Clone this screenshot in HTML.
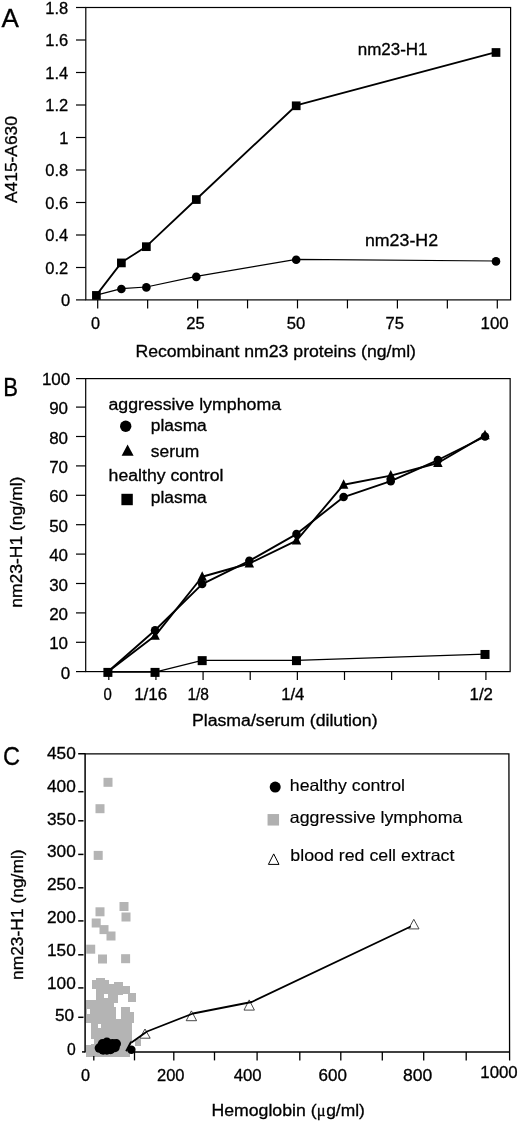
<!DOCTYPE html>
<html><head><meta charset="utf-8"><title>Figure</title>
<style>
html,body{margin:0;padding:0;background:#fff;}
svg{display:block;filter:blur(0.4px);font-family:"Liberation Sans",Arial,Helvetica,sans-serif;fill:#000;}
text{stroke:#000;stroke-width:0.3px;}
</style></head><body>
<svg width="520" height="1122" viewBox="0 0 520 1122">
<rect x="0" y="0" width="520" height="1122" fill="#fff"/>
<!-- chart A -->
<rect x="85.8" y="7.5" width="424.8" height="292.4" fill="none" stroke="#000" stroke-width="1.2"/>
<line x1="76.00" y1="299.90" x2="85.80" y2="299.90" stroke="#000" stroke-width="1.2"/>
<text x="61.06" y="306.00" font-size="16" textLength="9.17" lengthAdjust="spacingAndGlyphs">0</text>
<line x1="76.00" y1="267.50" x2="85.80" y2="267.50" stroke="#000" stroke-width="1.2"/>
<text x="45.38" y="273.50" font-size="16" textLength="22.91" lengthAdjust="spacingAndGlyphs">0.2</text>
<line x1="76.00" y1="235.00" x2="85.80" y2="235.00" stroke="#000" stroke-width="1.2"/>
<text x="45.38" y="241.00" font-size="16" textLength="22.91" lengthAdjust="spacingAndGlyphs">0.4</text>
<line x1="76.00" y1="202.50" x2="85.80" y2="202.50" stroke="#000" stroke-width="1.2"/>
<text x="45.38" y="208.50" font-size="16" textLength="22.91" lengthAdjust="spacingAndGlyphs">0.6</text>
<line x1="76.00" y1="170.00" x2="85.80" y2="170.00" stroke="#000" stroke-width="1.2"/>
<text x="45.38" y="176.00" font-size="16" textLength="22.91" lengthAdjust="spacingAndGlyphs">0.8</text>
<line x1="76.00" y1="137.50" x2="85.80" y2="137.50" stroke="#000" stroke-width="1.2"/>
<text x="59.16" y="143.50" font-size="16" textLength="9.17" lengthAdjust="spacingAndGlyphs">1</text>
<line x1="76.00" y1="105.00" x2="85.80" y2="105.00" stroke="#000" stroke-width="1.2"/>
<text x="45.38" y="111.00" font-size="16" textLength="22.91" lengthAdjust="spacingAndGlyphs">1.2</text>
<line x1="76.00" y1="72.50" x2="85.80" y2="72.50" stroke="#000" stroke-width="1.2"/>
<text x="45.38" y="78.50" font-size="16" textLength="22.91" lengthAdjust="spacingAndGlyphs">1.4</text>
<line x1="76.00" y1="40.00" x2="85.80" y2="40.00" stroke="#000" stroke-width="1.2"/>
<text x="45.38" y="46.00" font-size="16" textLength="22.91" lengthAdjust="spacingAndGlyphs">1.6</text>
<line x1="76.00" y1="7.50" x2="85.80" y2="7.50" stroke="#000" stroke-width="1.2"/>
<text x="45.38" y="13.50" font-size="16" textLength="22.91" lengthAdjust="spacingAndGlyphs">1.8</text>
<line x1="97.70" y1="299.90" x2="97.70" y2="308.40" stroke="#000" stroke-width="1.2"/>
<line x1="147.65" y1="299.90" x2="147.65" y2="308.40" stroke="#000" stroke-width="1.2"/>
<line x1="197.60" y1="299.90" x2="197.60" y2="308.40" stroke="#000" stroke-width="1.2"/>
<line x1="247.55" y1="299.90" x2="247.55" y2="308.40" stroke="#000" stroke-width="1.2"/>
<line x1="297.50" y1="299.90" x2="297.50" y2="308.40" stroke="#000" stroke-width="1.2"/>
<line x1="347.45" y1="299.90" x2="347.45" y2="308.40" stroke="#000" stroke-width="1.2"/>
<line x1="397.40" y1="299.90" x2="397.40" y2="308.40" stroke="#000" stroke-width="1.2"/>
<line x1="447.35" y1="299.90" x2="447.35" y2="308.40" stroke="#000" stroke-width="1.2"/>
<line x1="497.30" y1="299.90" x2="497.30" y2="308.40" stroke="#000" stroke-width="1.2"/>
<text x="91.00" y="328.50" font-size="16" textLength="9.02" lengthAdjust="spacingAndGlyphs">0</text>
<text x="186.20" y="328.50" font-size="16" textLength="18.45" lengthAdjust="spacingAndGlyphs">25</text>
<text x="286.80" y="328.50" font-size="16" textLength="18.45" lengthAdjust="spacingAndGlyphs">50</text>
<text x="385.60" y="328.50" font-size="16" textLength="18.45" lengthAdjust="spacingAndGlyphs">75</text>
<text x="480.60" y="328.50" font-size="16" textLength="28.14" lengthAdjust="spacingAndGlyphs">100</text>
<text x="135.40" y="356.80" font-size="16" textLength="280.56" lengthAdjust="spacingAndGlyphs">Recombinant nm23 proteins (ng/ml)</text>
<text transform="translate(17.40,203.00) rotate(-90)" font-size="16" textLength="86.93" lengthAdjust="spacingAndGlyphs">A415-A630</text>
<text x="1.60" y="27.20" font-size="26" textLength="17.37" lengthAdjust="spacingAndGlyphs">A</text>
<text x="357.70" y="54.60" font-size="16" textLength="69.86" lengthAdjust="spacingAndGlyphs">nm23-H1</text>
<text x="364.90" y="246.20" font-size="16" textLength="73.16" lengthAdjust="spacingAndGlyphs">nm23-H2</text>
<polyline fill="none" stroke="#000" stroke-width="1.25" stroke-linejoin="round" points="96.40,295.12 121.38,288.62 146.35,287.00 196.30,276.44 296.20,259.38 496.00,261.00"/>
<polyline fill="none" stroke="#000" stroke-width="1.8" stroke-linejoin="round" points="96.40,295.12 121.38,262.62 146.35,246.38 196.30,199.25 296.20,105.49 496.00,52.19"/>
<circle cx="121.38" cy="289.02" r="4.3" fill="#000"/>
<circle cx="146.35" cy="287.40" r="4.3" fill="#000"/>
<circle cx="196.30" cy="276.84" r="4.3" fill="#000"/>
<circle cx="296.20" cy="259.77" r="4.3" fill="#000"/>
<circle cx="496.00" cy="261.40" r="4.3" fill="#000"/>
<rect x="92.05" y="291.07" width="8.7" height="8.7" fill="#000"/>
<rect x="117.03" y="258.57" width="8.7" height="8.7" fill="#000"/>
<rect x="142.00" y="242.33" width="8.7" height="8.7" fill="#000"/>
<rect x="191.95" y="195.20" width="8.7" height="8.7" fill="#000"/>
<rect x="291.85" y="101.44" width="8.7" height="8.7" fill="#000"/>
<rect x="491.65" y="48.14" width="8.7" height="8.7" fill="#000"/>
<!-- chart B -->
<rect x="85.7" y="378.6" width="424.45" height="293.0" fill="none" stroke="#000" stroke-width="1.2"/>
<line x1="76.00" y1="671.60" x2="85.70" y2="671.60" stroke="#000" stroke-width="1.2"/>
<text x="60.89" y="678.70" font-size="16" textLength="9.43" lengthAdjust="spacingAndGlyphs">0</text>
<line x1="76.00" y1="642.30" x2="85.70" y2="642.30" stroke="#000" stroke-width="1.2"/>
<text x="49.19" y="649.30" font-size="16" textLength="18.86" lengthAdjust="spacingAndGlyphs">10</text>
<line x1="76.00" y1="612.90" x2="85.70" y2="612.90" stroke="#000" stroke-width="1.2"/>
<text x="49.19" y="619.90" font-size="16" textLength="18.86" lengthAdjust="spacingAndGlyphs">20</text>
<line x1="76.00" y1="583.50" x2="85.70" y2="583.50" stroke="#000" stroke-width="1.2"/>
<text x="49.19" y="590.50" font-size="16" textLength="18.86" lengthAdjust="spacingAndGlyphs">30</text>
<line x1="76.00" y1="554.10" x2="85.70" y2="554.10" stroke="#000" stroke-width="1.2"/>
<text x="49.19" y="561.10" font-size="16" textLength="18.86" lengthAdjust="spacingAndGlyphs">40</text>
<line x1="76.00" y1="524.70" x2="85.70" y2="524.70" stroke="#000" stroke-width="1.2"/>
<text x="49.19" y="531.70" font-size="16" textLength="18.86" lengthAdjust="spacingAndGlyphs">50</text>
<line x1="76.00" y1="495.30" x2="85.70" y2="495.30" stroke="#000" stroke-width="1.2"/>
<text x="49.19" y="502.30" font-size="16" textLength="18.86" lengthAdjust="spacingAndGlyphs">60</text>
<line x1="76.00" y1="465.90" x2="85.70" y2="465.90" stroke="#000" stroke-width="1.2"/>
<text x="49.19" y="472.90" font-size="16" textLength="18.86" lengthAdjust="spacingAndGlyphs">70</text>
<line x1="76.00" y1="436.50" x2="85.70" y2="436.50" stroke="#000" stroke-width="1.2"/>
<text x="49.19" y="443.50" font-size="16" textLength="18.86" lengthAdjust="spacingAndGlyphs">80</text>
<line x1="76.00" y1="407.10" x2="85.70" y2="407.10" stroke="#000" stroke-width="1.2"/>
<text x="49.19" y="414.10" font-size="16" textLength="18.86" lengthAdjust="spacingAndGlyphs">90</text>
<line x1="76.00" y1="378.60" x2="85.70" y2="378.60" stroke="#000" stroke-width="1.2"/>
<text x="41.94" y="384.90" font-size="16" textLength="28.30" lengthAdjust="spacingAndGlyphs">100</text>
<line x1="108.80" y1="671.60" x2="108.80" y2="680.00" stroke="#000" stroke-width="1.2"/>
<line x1="155.94" y1="671.60" x2="155.94" y2="680.00" stroke="#000" stroke-width="1.2"/>
<line x1="203.08" y1="671.60" x2="203.08" y2="680.00" stroke="#000" stroke-width="1.2"/>
<line x1="250.22" y1="671.60" x2="250.22" y2="680.00" stroke="#000" stroke-width="1.2"/>
<line x1="297.36" y1="671.60" x2="297.36" y2="680.00" stroke="#000" stroke-width="1.2"/>
<line x1="344.50" y1="671.60" x2="344.50" y2="680.00" stroke="#000" stroke-width="1.2"/>
<line x1="391.64" y1="671.60" x2="391.64" y2="680.00" stroke="#000" stroke-width="1.2"/>
<line x1="438.78" y1="671.60" x2="438.78" y2="680.00" stroke="#000" stroke-width="1.2"/>
<line x1="485.92" y1="671.60" x2="485.92" y2="680.00" stroke="#000" stroke-width="1.2"/>
<text x="103.60" y="699.60" font-size="16" textLength="8.32" lengthAdjust="spacingAndGlyphs">0</text>
<text x="134.20" y="699.60" font-size="16" textLength="33.02" lengthAdjust="spacingAndGlyphs">1/16</text>
<text x="187.40" y="699.60" font-size="16" textLength="21.59" lengthAdjust="spacingAndGlyphs">1/8</text>
<text x="281.20" y="699.60" font-size="16" textLength="23.19" lengthAdjust="spacingAndGlyphs">1/4</text>
<text x="469.60" y="699.60" font-size="16" textLength="23.39" lengthAdjust="spacingAndGlyphs">1/2</text>
<text x="192.00" y="725.80" font-size="16" textLength="185.56" lengthAdjust="spacingAndGlyphs">Plasma/serum (dilution)</text>
<text transform="translate(21.50,607.80) rotate(-90)" font-size="16" textLength="131.23" lengthAdjust="spacingAndGlyphs">nm23-H1 (ng/ml)</text>
<text x="3.20" y="396.20" font-size="26" textLength="14.77" lengthAdjust="spacingAndGlyphs">B</text>
<text x="108.40" y="410.40" font-size="16" textLength="172.66" lengthAdjust="spacingAndGlyphs">aggressive lymphoma</text>
<text x="150.80" y="431.40" font-size="16" textLength="55.95" lengthAdjust="spacingAndGlyphs">plasma</text>
<text x="150.80" y="456.60" font-size="16" textLength="48.35" lengthAdjust="spacingAndGlyphs">serum</text>
<text x="108.60" y="481.00" font-size="16" textLength="114.83" lengthAdjust="spacingAndGlyphs">healthy control</text>
<text x="150.80" y="503.30" font-size="16" textLength="55.95" lengthAdjust="spacingAndGlyphs">plasma</text>
<circle cx="125.70" cy="426.20" r="5.7" fill="#000"/>
<polygon points="127.60,444.40 121.60,455.80 133.60,455.80" fill="#000"/>
<rect x="121.40" y="493.80" width="11.4" height="11.4" fill="#000"/>
<polyline fill="none" stroke="#000" stroke-width="1.9" stroke-linejoin="round" points="107.90,671.70 155.04,630.25 202.18,584.09 249.32,560.86 296.46,534.11 343.60,497.06 390.74,481.19 437.88,460.02 485.02,436.50"/>
<polyline fill="none" stroke="#000" stroke-width="1.9" stroke-linejoin="round" points="107.90,671.70 155.04,635.83 202.18,576.74 249.32,563.51 296.46,540.58 343.60,484.72 390.74,475.60 437.88,462.96 485.02,435.32"/>
<polyline fill="none" stroke="#000" stroke-width="1.2" stroke-linejoin="round" points="107.90,672.10 155.04,672.10 202.18,660.34 296.46,660.34 485.02,654.17"/>
<polygon points="155.04,630.33 150.29,639.83 159.79,639.83" fill="#000"/>
<polygon points="202.18,571.24 197.43,580.74 206.93,580.74" fill="#000"/>
<polygon points="249.32,558.01 244.57,567.51 254.07,567.51" fill="#000"/>
<polygon points="296.46,535.08 291.71,544.58 301.21,544.58" fill="#000"/>
<polygon points="343.60,479.22 338.85,488.72 348.35,488.72" fill="#000"/>
<polygon points="390.74,470.10 385.99,479.60 395.49,479.60" fill="#000"/>
<polygon points="437.88,457.46 433.13,466.96 442.63,466.96" fill="#000"/>
<polygon points="485.02,429.82 480.27,439.32 489.77,439.32" fill="#000"/>
<circle cx="155.04" cy="630.25" r="4.25" fill="#000"/>
<circle cx="202.18" cy="584.09" r="4.25" fill="#000"/>
<circle cx="249.32" cy="560.86" r="4.25" fill="#000"/>
<circle cx="296.46" cy="534.11" r="4.25" fill="#000"/>
<circle cx="343.60" cy="497.06" r="4.25" fill="#000"/>
<circle cx="390.74" cy="481.19" r="4.25" fill="#000"/>
<circle cx="437.88" cy="460.02" r="4.25" fill="#000"/>
<circle cx="485.02" cy="436.50" r="4.25" fill="#000"/>
<rect x="103.40" y="667.90" width="9" height="9" fill="#000"/>
<rect x="150.54" y="667.90" width="9" height="9" fill="#000"/>
<rect x="197.68" y="656.14" width="9" height="9" fill="#000"/>
<rect x="291.96" y="656.14" width="9" height="9" fill="#000"/>
<rect x="480.52" y="649.97" width="9" height="9" fill="#000"/>
<!-- chart C -->
<rect x="103.50" y="777.80" width="9" height="9" fill="#b4b4b4"/>
<rect x="95.50" y="804.20" width="9" height="9" fill="#b4b4b4"/>
<rect x="93.70" y="850.90" width="9" height="9" fill="#b4b4b4"/>
<rect x="95.50" y="907.30" width="9" height="9" fill="#b4b4b4"/>
<rect x="119.50" y="902.00" width="9" height="9" fill="#b4b4b4"/>
<rect x="121.50" y="912.50" width="9" height="9" fill="#b4b4b4"/>
<rect x="91.70" y="918.50" width="9" height="9" fill="#b4b4b4"/>
<rect x="99.50" y="925.10" width="9" height="9" fill="#b4b4b4"/>
<rect x="106.50" y="931.50" width="9" height="9" fill="#b4b4b4"/>
<rect x="86.20" y="944.70" width="9" height="9" fill="#b4b4b4"/>
<rect x="98.00" y="954.50" width="9" height="9" fill="#b4b4b4"/>
<rect x="121.10" y="954.20" width="9" height="9" fill="#b4b4b4"/>
<rect x="92" y="980" width="17" height="9" fill="#b4b4b4" shape-rendering="crispEdges"/>
<rect x="96" y="978" width="9" height="2" fill="#b4b4b4" shape-rendering="crispEdges"/>
<rect x="96" y="984" width="18" height="17" fill="#b4b4b4" shape-rendering="crispEdges"/>
<rect x="114" y="982" width="9" height="13" fill="#b4b4b4" shape-rendering="crispEdges"/>
<rect x="123" y="986" width="7" height="8" fill="#b4b4b4" shape-rendering="crispEdges"/>
<rect x="128" y="993" width="8" height="9" fill="#b4b4b4" shape-rendering="crispEdges"/>
<rect x="114" y="995" width="4" height="8" fill="#b4b4b4" shape-rendering="crispEdges"/>
<rect x="86" y="1000" width="28" height="23" fill="#b4b4b4" shape-rendering="crispEdges"/>
<rect x="113" y="1007" width="3" height="16" fill="#b4b4b4" shape-rendering="crispEdges"/>
<rect x="121" y="1007" width="9" height="16" fill="#b4b4b4" shape-rendering="crispEdges"/>
<rect x="130" y="1012" width="4" height="11" fill="#b4b4b4" shape-rendering="crispEdges"/>
<rect x="116" y="1019" width="5" height="4" fill="#b4b4b4" shape-rendering="crispEdges"/>
<rect x="91" y="1023" width="41" height="34" fill="#b4b4b4" shape-rendering="crispEdges"/>
<rect x="86" y="1045" width="5" height="12" fill="#b4b4b4" shape-rendering="crispEdges"/>
<rect x="135" y="1039" width="6" height="7" fill="#b4b4b4" shape-rendering="crispEdges"/>
<rect x="104" y="994" width="4" height="4" fill="#fff" shape-rendering="crispEdges"/>
<rect x="87" y="1009" width="3" height="5" fill="#fff" shape-rendering="crispEdges"/>
<rect x="98" y="1024" width="3" height="4" fill="#fff" shape-rendering="crispEdges"/>
<rect x="91" y="1039" width="3" height="5" fill="#fff" shape-rendering="crispEdges"/>
<rect x="130" y="1051" width="2" height="6" fill="#fff" shape-rendering="crispEdges"/>
<line x1="85.10" y1="1052.60" x2="85.10" y2="753.15" stroke="#000" stroke-width="1.5"/>
<polyline fill="none" stroke="#000" stroke-width="1.3" points="85.1,753.95 508.9,753.95 509.6,1060.6"/>
<line x1="133.00" y1="1052.00" x2="509.60" y2="1052.00" stroke="#000" stroke-width="1.4"/>
<line x1="93.80" y1="1056.00" x2="93.80" y2="1060.40" stroke="#000" stroke-width="1.3"/>
<line x1="134.50" y1="1052.00" x2="134.50" y2="1060.40" stroke="#000" stroke-width="1.3"/>
<line x1="173.80" y1="1052.00" x2="173.80" y2="1060.40" stroke="#000" stroke-width="1.3"/>
<line x1="214.50" y1="1052.00" x2="214.50" y2="1060.40" stroke="#000" stroke-width="1.3"/>
<line x1="257.10" y1="1052.00" x2="257.10" y2="1060.40" stroke="#000" stroke-width="1.3"/>
<line x1="299.80" y1="1052.00" x2="299.80" y2="1060.40" stroke="#000" stroke-width="1.3"/>
<line x1="340.80" y1="1052.00" x2="340.80" y2="1060.40" stroke="#000" stroke-width="1.3"/>
<line x1="382.30" y1="1052.00" x2="382.30" y2="1060.40" stroke="#000" stroke-width="1.3"/>
<line x1="423.70" y1="1052.00" x2="423.70" y2="1060.40" stroke="#000" stroke-width="1.3"/>
<line x1="466.20" y1="1052.00" x2="466.20" y2="1060.40" stroke="#000" stroke-width="1.3"/>
<line x1="78.20" y1="753.75" x2="85.10" y2="753.75" stroke="#000" stroke-width="1.5"/>
<text x="47.00" y="759.00" font-size="16" textLength="28.74" lengthAdjust="spacingAndGlyphs">450</text>
<line x1="78.20" y1="791.70" x2="83.50" y2="791.70" stroke="#000" stroke-width="1.5"/>
<text x="47.00" y="791.90" font-size="16" textLength="28.74" lengthAdjust="spacingAndGlyphs">400</text>
<line x1="78.20" y1="820.80" x2="83.50" y2="820.80" stroke="#000" stroke-width="1.5"/>
<text x="47.00" y="824.80" font-size="16" textLength="28.74" lengthAdjust="spacingAndGlyphs">350</text>
<line x1="78.20" y1="854.40" x2="83.50" y2="854.40" stroke="#000" stroke-width="1.5"/>
<text x="47.00" y="857.10" font-size="16" textLength="28.74" lengthAdjust="spacingAndGlyphs">300</text>
<line x1="78.20" y1="887.80" x2="83.50" y2="887.80" stroke="#000" stroke-width="1.5"/>
<text x="47.00" y="890.40" font-size="16" textLength="28.74" lengthAdjust="spacingAndGlyphs">250</text>
<line x1="78.20" y1="920.90" x2="83.50" y2="920.90" stroke="#000" stroke-width="1.5"/>
<text x="47.00" y="923.20" font-size="16" textLength="28.74" lengthAdjust="spacingAndGlyphs">200</text>
<line x1="78.20" y1="954.80" x2="83.50" y2="954.80" stroke="#000" stroke-width="1.5"/>
<text x="47.00" y="955.90" font-size="16" textLength="28.74" lengthAdjust="spacingAndGlyphs">150</text>
<line x1="78.20" y1="987.90" x2="83.50" y2="987.90" stroke="#000" stroke-width="1.5"/>
<text x="47.00" y="988.50" font-size="16" textLength="28.74" lengthAdjust="spacingAndGlyphs">100</text>
<line x1="78.20" y1="1017.30" x2="83.50" y2="1017.30" stroke="#000" stroke-width="1.5"/>
<text x="55.00" y="1021.30" font-size="16" textLength="19.05" lengthAdjust="spacingAndGlyphs">50</text>
<line x1="82.00" y1="1051.90" x2="85.10" y2="1051.90" stroke="#000" stroke-width="1.5"/>
<text x="67.10" y="1054.80" font-size="16" textLength="8.72" lengthAdjust="spacingAndGlyphs">0</text>
<text x="81.00" y="1081.00" font-size="16" textLength="9.02" lengthAdjust="spacingAndGlyphs">0</text>
<text x="157.00" y="1081.00" font-size="16" textLength="27.54" lengthAdjust="spacingAndGlyphs">200</text>
<text x="233.70" y="1081.00" font-size="16" textLength="27.94" lengthAdjust="spacingAndGlyphs">400</text>
<text x="318.60" y="1081.00" font-size="16" textLength="28.34" lengthAdjust="spacingAndGlyphs">600</text>
<text x="403.00" y="1081.00" font-size="16" textLength="29.24" lengthAdjust="spacingAndGlyphs">800</text>
<text x="480.30" y="1077.60" font-size="16" textLength="37.37" lengthAdjust="spacingAndGlyphs">1000</text>
<text transform="translate(22.70,980.00) rotate(-90)" font-size="16" textLength="130.63" lengthAdjust="spacingAndGlyphs">nm23-H1 (ng/ml)</text>
<text x="3.00" y="764.80" font-size="26" textLength="17.02" lengthAdjust="spacingAndGlyphs">C</text>
<text x="211.50" y="1116.00" font-size="16" textLength="105.03" lengthAdjust="spacingAndGlyphs">Hemoglobin (</text>
<text x="316.8" y="1116" font-size="16.5" font-family="'Liberation Serif','DejaVu Serif',serif">μ</text>
<text x="326.20" y="1116.00" font-size="16" textLength="38.66" lengthAdjust="spacingAndGlyphs">g/ml)</text>
<circle cx="275.20" cy="787.10" r="5.5" fill="#000"/>
<rect x="267.55" y="814.05" width="11.5" height="11.5" fill="#b0b0b0"/>
<polygon points="273.70,853.90 268.40,864.40 279.00,864.40" fill="#fff" stroke="#000" stroke-width="1"/>
<text x="289.80" y="790.90" font-size="16.5" textLength="115.16" lengthAdjust="spacingAndGlyphs" style="stroke-width:0.15px">healthy control</text>
<text x="289.80" y="823.10" font-size="16.5" textLength="172.58" lengthAdjust="spacingAndGlyphs" style="stroke-width:0.15px">aggressive lymphoma</text>
<text x="290.30" y="860.90" font-size="16.5" textLength="164.09" lengthAdjust="spacingAndGlyphs" style="stroke-width:0.15px">blood red cell extract</text>
<polygon points="131.30,1041.50 126.30,1051.00 136.30,1051.00" fill="#fff"/>
<line x1="126.20" y1="1051.20" x2="131.20" y2="1041.80" stroke="#000" stroke-width="2.0"/>
<polygon points="145.00,1029.00 139.80,1038.20 150.20,1038.20" fill="#fff" stroke="#333" stroke-width="0.9"/>
<polygon points="191.40,1010.90 186.20,1020.70 196.60,1020.70" fill="#fff" stroke="#333" stroke-width="0.9"/>
<polygon points="249.20,999.90 244.00,1010.10 254.40,1010.10" fill="#fff" stroke="#333" stroke-width="0.9"/>
<polygon points="413.80,919.30 408.60,928.90 419.00,928.90" fill="#fff" stroke="#333" stroke-width="0.9"/>
<polyline fill="none" stroke="#000" stroke-width="1.8" stroke-linejoin="round" points="131.50,1042.50 147.00,1031.50 193.00,1013.50 251.70,1002.00 410.80,926.50"/>
<circle cx="99.38" cy="1048.12" r="4.75" fill="#000"/>
<circle cx="103.12" cy="1050.00" r="4.75" fill="#000"/>
<circle cx="106.88" cy="1042.25" r="4.75" fill="#000"/>
<circle cx="110.62" cy="1049.38" r="4.75" fill="#000"/>
<circle cx="105.00" cy="1046.25" r="4.75" fill="#000"/>
<circle cx="112.50" cy="1043.75" r="4.75" fill="#000"/>
<circle cx="116.25" cy="1043.75" r="4.75" fill="#000"/>
<circle cx="102.50" cy="1043.75" r="4.75" fill="#000"/>
<circle cx="115.00" cy="1047.50" r="4.75" fill="#000"/>
<circle cx="106.88" cy="1050.00" r="4.75" fill="#000"/>
<circle cx="131.40" cy="1049.80" r="4.2" fill="#000"/>
</svg>
</body></html>
